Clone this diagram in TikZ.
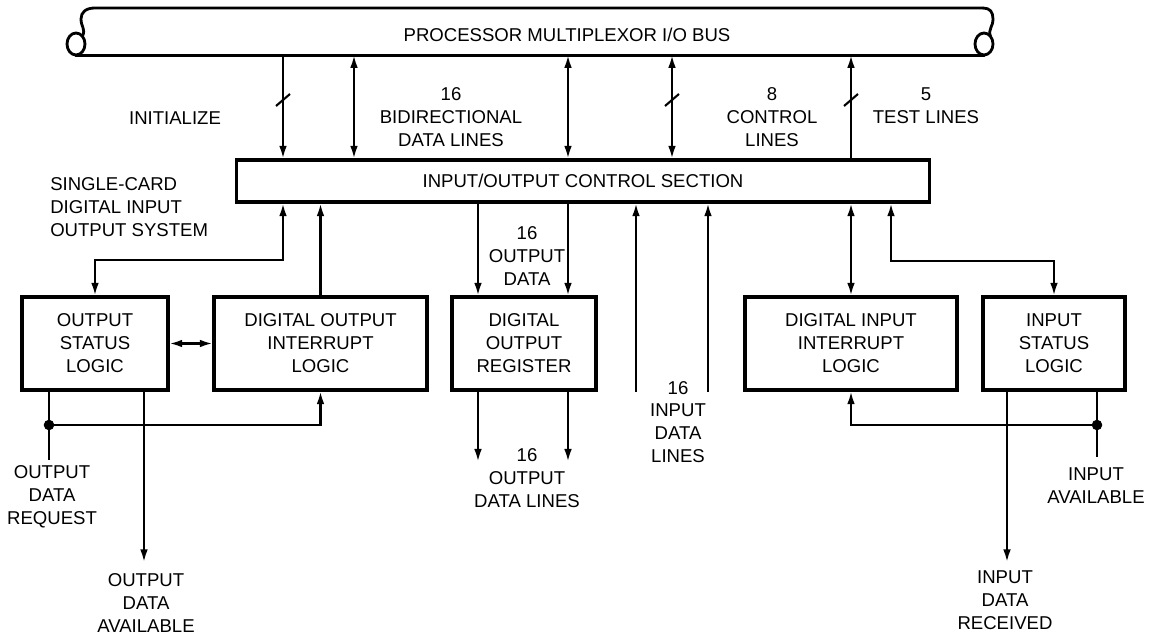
\documentclass[tikz,border=0pt]{standalone}
\usepackage{fontspec}
\setmainfont{Liberation Sans}
\usetikzlibrary{arrows.meta, positioning, calc}

\begin{document}
\begin{tikzpicture}[
    x=0.025cm, y=-0.025cm,
    every node/.style={font=\fontsize{13.2}{16.3}\selectfont},
    blk/.style={draw, line width=2.2pt, inner sep=0pt, minimum height=2.325cm, align=center},
    lbl/.style={align=center, inner sep=0pt},
    wire/.style={line width=1.5pt},
    arr/.style={wire, -{Latex[length=9pt, width=5.5pt]}},
    dblarr/.style={wire, {Latex[length=9pt, width=5.5pt]}-{Latex[length=9pt, width=5.5pt]}},
    pipe/.style={line width=2pt, line cap=round},
    dot/.style={circle, fill, inner sep=0pt, minimum size=7.5pt},
]
\useasboundingbox (0,0) rectangle (1159,636);

% Bus along the top
\node[minimum width=22.7cm, minimum height=1.175cm, inner sep=0pt] (bus) at (530,31.5) {};
\node (bustext) at (567,35) {PROCESSOR MULTIPLEXOR I/O BUS};
\draw[pipe] (bus.south west) -- (bus.south east);
\draw[pipe] (983,8) -- (95,8) .. controls (86,8) and (81,12) .. (81,19) .. controls (81,27) and (86,29) .. (82.4,36.2);
\draw[pipe] (76,44) ellipse [x radius=9, y radius=11];
\draw[pipe] (983,8) .. controls (990,8) and (993,12) .. (993,19) .. controls (993,27) and (988,29) .. (990.4,36.2);
\draw[pipe] (984,44) ellipse [x radius=9, y radius=11];

% Control section and cards
\node[draw, line width=2.2pt, minimum width=17.3cm, minimum height=1.05cm, inner sep=0pt] (iocs) at (583,181) {INPUT/OUTPUT CONTROL SECTION};
\node[blk, minimum width=3.65cm] (osl) at (95,343.5) {OUTPUT\\STATUS\\LOGIC};
\node[blk, minimum width=5.325cm] (doil) at (320.5,343.5) {DIGITAL OUTPUT\\INTERRUPT\\LOGIC};
\node[blk, minimum width=3.6cm] (dor) at (524,343.5) {DIGITAL\\OUTPUT\\REGISTER};
\node[blk, minimum width=5.3cm] (diil) at (851,343.5) {DIGITAL INPUT\\INTERRUPT\\LOGIC};
\node[blk, minimum width=3.55cm] (isl) at (1054,343.5) {INPUT\\STATUS\\LOGIC};

% Bus lines
\draw[arr] (283,0 |- bus.south) -- (283,0 |- iocs.north);
\draw[dblarr] (354,0 |- bus.south) -- (354,0 |- iocs.north);
\draw[dblarr] (568,0 |- bus.south) -- (568,0 |- iocs.north);
\draw[dblarr] (672,0 |- bus.south) -- (672,0 |- iocs.north);
\draw[arr] (851,0 |- iocs.north) -- (851,0 |- bus.south);
\foreach \x in {283, 672, 851} {
    \draw[wire] (\x-7,106) -- (\x+7,94);
}

\node[lbl] (init) at (175,118) {INITIALIZE};
\node[lbl] (bidir) at (451,117) {16\\BIDIRECTIONAL\\DATA LINES};
\node[lbl] (ctrl) at (772,117) {8\\CONTROL\\LINES};
\node[lbl] (test) at (926,106) {5\\TEST LINES};
\node[lbl, align=left, anchor=west] (card) at (50,207) {SINGLE-CARD\\DIGITAL INPUT\\OUTPUT SYSTEM};

% Output side
\draw[dblarr] (283,0 |- iocs.south) |- (osl.north |- 0,260) -- (osl.north);
\draw[arr] (doil.north) -- (doil.north |- iocs.south);
\draw[dblarr] (osl.east) -- (doil.west);
\draw[arr] (478,0 |- iocs.south) -- (478,0 |- dor.north);
\draw[arr] (568,0 |- iocs.south) -- (568,0 |- dor.north);
\node[lbl] (odata) at (527,256) {16\\OUTPUT\\DATA};
\draw[arr] (478,0 |- dor.south) -- ++(0,70);
\draw[arr] (568,0 |- dor.south) -- ++(0,70);
\node[lbl] (olines) at (527,478) {16\\OUTPUT\\DATA LINES};

\draw[wire] (49,0 |- osl.south) -- (49,460);
\node[dot] (odot) at (49,425) {};
\draw[arr] (odot.center) -| (doil.south);
\draw[arr] (144,0 |- osl.south) -- (144,562);
\node[lbl] (oreq) at (52,497) {OUTPUT\\DATA\\REQUEST};
\node[lbl] (oavail) at (146,603) {OUTPUT\\DATA\\AVAILABLE};

% Input side
\draw[arr] (636,0 |- dor.south) -- (636,0 |- iocs.south);
\draw[arr] (708,0 |- dor.south) -- (708,0 |- iocs.south);
\node[lbl] (ilines) at (678,422) {16\\INPUT\\DATA\\LINES};
\draw[dblarr] (diil.north) -- (diil.north |- iocs.south);
\draw[dblarr] (891,0 |- iocs.south) |- (isl.north |- 0,261) -- (isl.north);

\draw[wire] (1097,0 |- isl.south) -- (1097,457);
\node[dot] (idot) at (1097,425) {};
\draw[arr] (idot.center) -| (diil.south);
\draw[arr] (1007,0 |- isl.south) -- (1007,562);
\node[lbl] (iavail) at (1096,486) {INPUT\\AVAILABLE};
\node[lbl] (irecv) at (1005,600) {INPUT\\DATA\\RECEIVED};

\end{tikzpicture}
\end{document}
